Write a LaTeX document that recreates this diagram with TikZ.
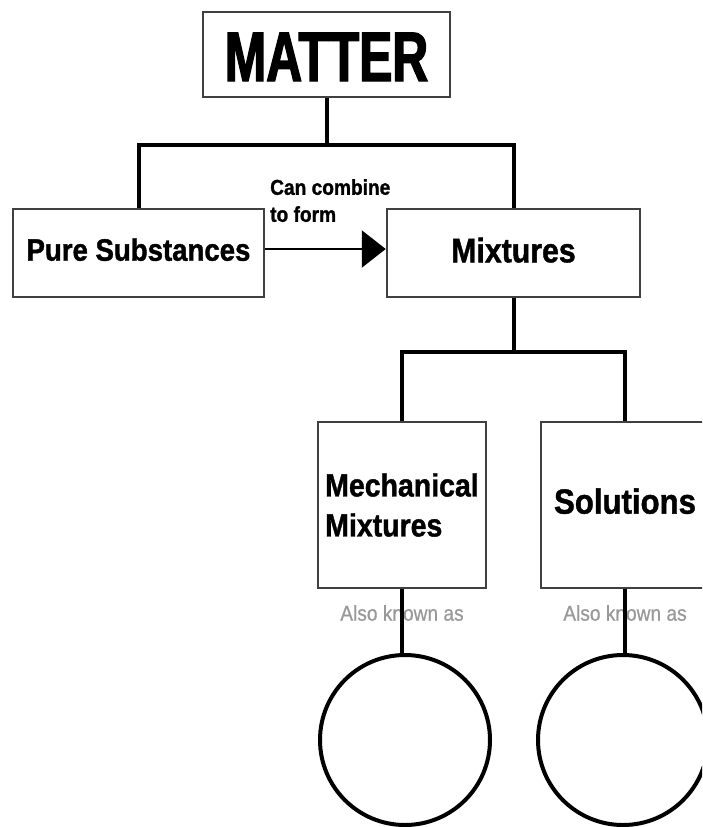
\documentclass[tikz,border=0pt]{standalone}
\usepackage{fontspec}
\setmainfont{Liberation Sans}
\newfontfamily\condN[FakeStretch=0.89,FakeBold=1.2]{Liberation Sans}
\newfontfamily\condM[FakeStretch=0.71,FakeBold=2]{Liberation Sans}
\newfontfamily\condR[FakeStretch=0.89,FakeBold=0.6]{Liberation Sans}
\usetikzlibrary{arrows.meta}
\definecolor{boxline}{gray}{0.25}
\definecolor{akagray}{gray}{0.6}
\begin{document}
\begin{tikzpicture}[x=1pt,y=-1pt,
  box/.style={draw=boxline,line width=2.5pt,rectangle,inner sep=0pt},
  conn/.style={line width=4pt,draw=black},
  ring/.style={circle,draw=black,line width=4pt,minimum size=170pt,inner sep=0pt},
  aka/.style={inner sep=0pt,text=akagray,font=\condR\fontsize{21.5}{24}\selectfont},
]
\useasboundingbox (0,0) rectangle (702,827);
\clip (0,0) rectangle (702,827);
\fill[white] (0,0) rectangle (702,827);

\node[box,minimum width=247pt,minimum height=85pt,text height=53pt,
      font=\condM\bfseries\fontsize{70}{80}\selectfont] (matter) at (326.5,54.5) {MATTER};
\node[box,minimum width=251pt,minimum height=88pt,text depth=7pt,
      font=\condN\bfseries\fontsize{31}{36}\selectfont] (pure) at (138.5,253) {Pure Substances};
\node[box,minimum width=253pt,minimum height=88pt,text depth=6pt,
      font=\condN\bfseries\fontsize{34}{40}\selectfont] (mix) at (513.5,253) {Mixtures};
\node[box,minimum width=168pt,minimum height=166pt,align=left,
      font=\condN\bfseries\fontsize{32}{40}\selectfont] (mech) at (402,505) {Mechanical\\Mixtures};
\node[box,minimum width=168pt,minimum height=166pt,text depth=8pt,
      font=\condN\bfseries\fontsize{35}{40}\selectfont] (sol) at (625,505) {Solutions};

\node[anchor=north west,inner sep=0pt,align=left,
      font=\condN\bfseries\fontsize{21.5}{27}\selectfont] (lbl) at (270,179) {Can combine\\to form};

\node[aka] (aka1) at (402,613) {Also known as};
\node[aka] (aka2) at (625,613) {Also known as};

\node[ring] (c1) at (405,740) {};
\node[ring] (c2) at (623,740) {};

\coordinate (j1) at (326.5,145);
\coordinate (j2) at (513.5,352);

\draw[conn] (matter.south) -- (matter.south |- j1);
\draw[conn] (pure.north) |- (j1) -| (mix.north);
\draw[conn] (mix.south) -- (j2);
\draw[conn] (mech.north) |- (j2) -| (sol.north);

\draw[line width=2.5pt,-{Triangle[length=24pt,width=37pt]}]
  ([yshift=4pt]pure.east) -- ([yshift=4pt]mix.west);

\draw[conn] (mech.south) -- (mech.south |- c1.north);
\draw[conn] (sol.south) -- (sol.south |- c2.north);
\end{tikzpicture}
\end{document}
